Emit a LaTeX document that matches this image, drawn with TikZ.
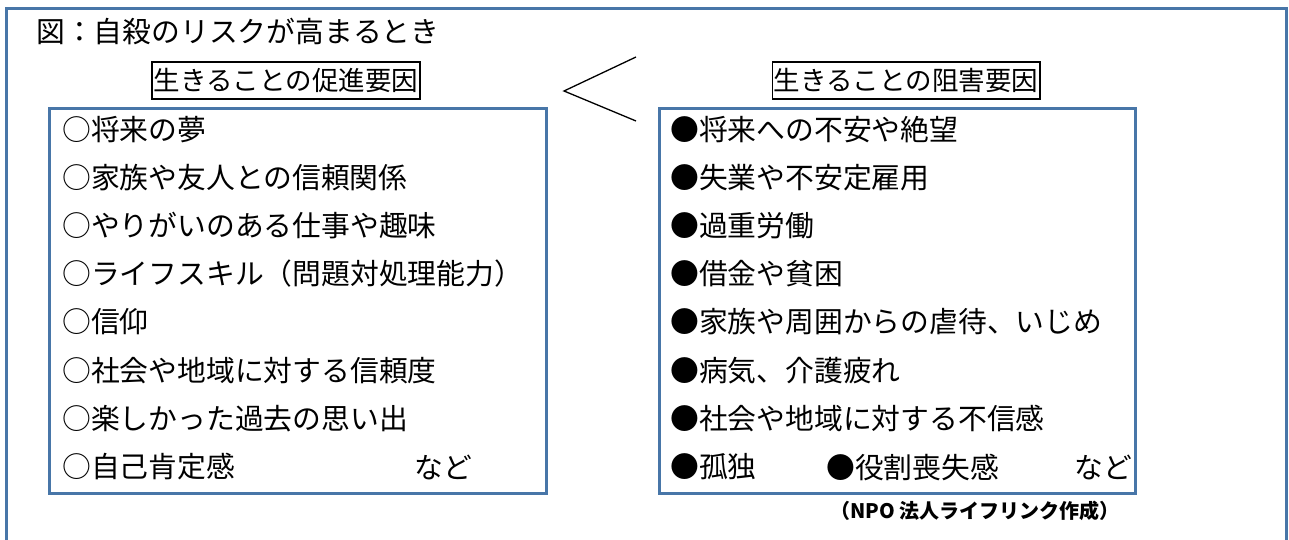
\documentclass[tikz,border=0pt]{standalone}
\usepackage{fontspec}
\setmainfont{Noto Sans CJK JP}
\definecolor{fblue}{RGB}{72,118,168}
\begin{document}
\begin{tikzpicture}[x=1pt,y=-1pt,
  frame/.style={draw=fblue, line width=3pt},
  listbox/.style={frame, anchor=north west, inner sep=0pt, minimum width=497pt, minimum height=385pt},
  hdr/.style={draw=black, line width=1.8pt, inner xsep=1.5pt, inner ysep=6pt, font=\fontsize{26.5}{30}\selectfont},
  item/.style={anchor=west, inner sep=0pt, font=\fontsize{28.8}{32}\selectfont},
  chev/.style={draw=black, line width=1.3pt}]
\useasboundingbox (0,0) rectangle (1289,540);
\fill[white] (0,0) rectangle (1289,540);
% outer frame (open at the bottom)
\draw[frame] (6,545) -- (6,9) -- (1286,9) -- (1286,545);
% title
\node[item] (title) at (36,31) {図：自殺のリスクが高まるとき};
% headers
\node[hdr] (lh) at (286,80.5) {生きることの促進要因};
\node[hdr] (rh) at (906,80.5) {生きることの阻害要因};
% chevron
\coordinate (ct) at (636,57);
\coordinate (cp) at (564,91);
\coordinate (cb) at (636,121);
\draw[chev] (ct) -- (cp) -- (cb);
% boxes
\node[listbox] (lbox) at (48,107) {};
\node[listbox, minimum width=476pt] (rbox) at (658,107) {};
% left items
\node[item] (l1) at (62,130) {○将来の夢};
\node[item] (l2) at (62,178) {○家族や友人との信頼関係};
\node[item] (l3) at (62,226) {○やりがいのある仕事や趣味};
\node[item] (l4) at (62,274) {○ライフスキル（問題対処理能力）};
\node[item] (l5) at (62,322) {○信仰};
\node[item] (l6) at (62,371) {○社会や地域に対する信頼度};
\node[item] (l7) at (62,419) {○楽しかった過去の思い出};
\node[item] (l8) at (62,467) {○自己肯定感};
\node[item] (l9) at (414,467) {など};
% right items
\node[item] (r1) at (670,130) {●将来への不安や絶望};
\node[item] (r2) at (670,178) {●失業や不安定雇用};
\node[item] (r3) at (670,226) {●過重労働};
\node[item] (r4) at (670,274) {●借金や貧困};
\node[item] (r5) at (670,322) {●家族や周囲からの虐待、いじめ};
\node[item] (r6) at (670,371) {●病気、介護疲れ};
\node[item] (r7) at (670,419) {●社会や地域に対する不信感};
\node[item] (r8) at (670,467) {●孤独};
\node[item] (r9) at (826,467) {●役割喪失感};
\node[item] (r10) at (1074,467) {など};
% source
\node[anchor=west, inner sep=0pt, font=\bfseries\fontsize{20}{24}\selectfont] (src) at (830,511) {（NPO 法人ライフリンク作成）};
\end{tikzpicture}
\end{document}
